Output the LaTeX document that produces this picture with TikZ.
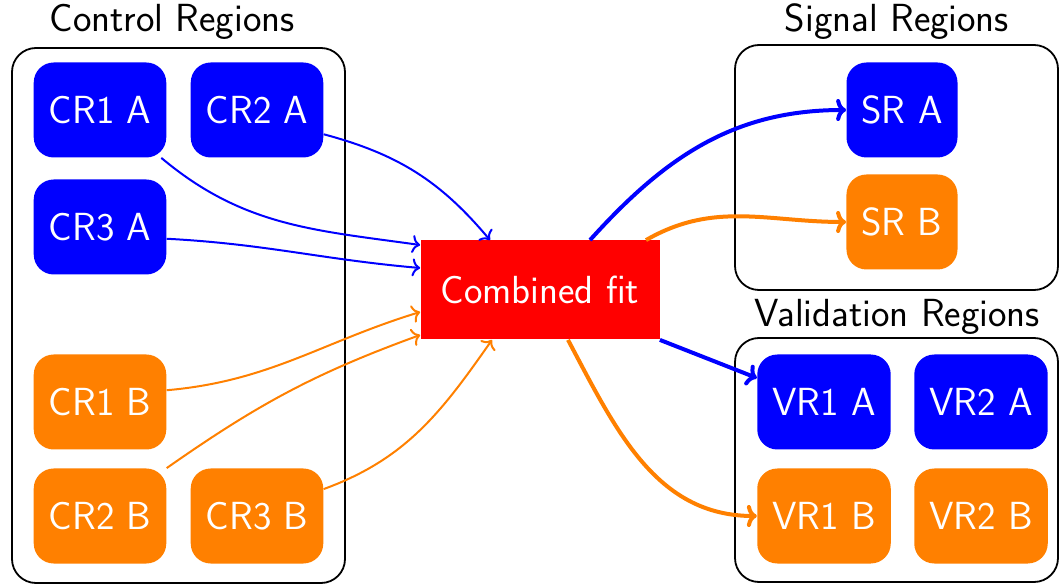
\documentclass[tikz,border=0pt]{standalone}
\usetikzlibrary{arrows.meta, positioning}
\renewcommand{\familydefault}{\sfdefault}

\begin{document}
\begin{tikzpicture}[
    x=0.5pt, y=0.5pt,
    region/.style={draw, line width=0.9pt, rounded corners=12pt, inner sep=0pt},
    title/.style={anchor=base},
    box/.style={rounded corners=10pt, text=white, minimum height=47.5pt, inner xsep=7.5pt},
    boxA/.style={box, fill=blue},
    boxB/.style={box, fill=orange},
    fitbox/.style={fill=red, text=white, minimum width=119.5pt, minimum height=49.5pt},
    thinA/.style={-{To[length=4pt, width=9pt]}, blue, line width=1pt},
    thinB/.style={-{To[length=4pt, width=9pt]}, orange, line width=1pt},
    thickA/.style={-{To[length=5pt, width=11pt]}, blue, line width=2pt},
    thickB/.style={-{To[length=5pt, width=11pt]}, orange, line width=2pt},
    every node/.append style={font=\fontsize{19.6}{23}\selectfont}
]
    \useasboundingbox (0,0) rectangle (1060,-587);

    % Regions
    \node[region, minimum width=166.5pt, minimum height=267.5pt] (control) at (178.5,-315.5) {};
    \node[region, minimum width=161.5pt, minimum height=122.5pt] (signal) at (896.5,-167.5) {};
    \node[region, minimum width=161.5pt, minimum height=122pt] (valid) at (896.5,-460) {};
    \node[title] (controlt) at (172,-32) {Control Regions};
    \node[title] (signalt) at (897,-32) {Signal Regions};
    \node[title] (validt) at (897,-327) {Validation Regions};

    % Control regions
    \node[boxA] (cr1a) at (100,-110) {CR1 A};
    \node[boxA] (cr2a) at (257,-110) {CR2 A};
    \node[boxA] (cr3a) at (100,-227) {CR3 A};
    \node[boxB] (cr1b) at (100,-402) {CR1 B};
    \node[boxB] (cr2b) at (100,-516) {CR2 B};
    \node[boxB] (cr3b) at (257,-516) {CR3 B};

    % Fit
    \node[fitbox] (fit) at (540,-290) {Combined fit};

    % Signal and validation regions
    \node[boxA] (sra) at (902,-110) {SR A};
    \node[boxB] (srb) at (902,-222) {SR B};
    \node[boxA] (vr1a) at (824,-402) {VR1 A};
    \node[boxA] (vr2a) at (981,-402) {VR2 A};
    \node[boxB] (vr1b) at (824,-516) {VR1 B};
    \node[boxB] (vr2b) at (981,-516) {VR2 B};

    % Inputs
    \draw[thinA] (cr1a.-38) to[out=-40, in=172] ([yshift=22.5pt]fit.west);
    \draw[thinA] (cr2a.-20) to[out=-15, in=130] ([xshift=-25pt]fit.north);
    \draw[thinA] (cr3a.-10) to[out=-3, in=175] ([yshift=11pt]fit.west);
    \draw[thinB] (cr1b.10) to[out=5, in=197] ([yshift=-11pt]fit.west);
    \draw[thinB] (cr2b.north east) to[out=35, in=200] ([yshift=-22.5pt]fit.west);
    \draw[thinB] (cr3b.22) to[out=20, in=235] ([xshift=-24pt]fit.south);

    % Outputs
    \draw[thickA] ([xshift=25pt]fit.north) to[out=48, in=180] (sra.west);
    \draw[thickB] ([xshift=53pt]fit.north) to[out=30, in=180] (srb.west);
    \draw[thickA] (fit.south east) -- ([yshift=12pt]vr1a.west);
    \draw[thickB] ([xshift=14pt]fit.south) to[out=-62, in=180] (vr1b.west);
\end{tikzpicture}
\end{document}
